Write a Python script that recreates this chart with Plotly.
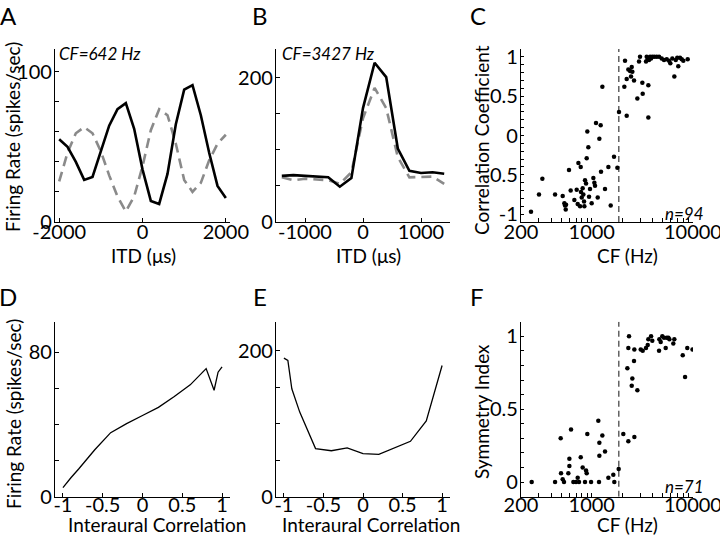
import plotly.graph_objects as go

# ---- data ----
# A: ITD curve, CF = 642 Hz
itd_a = [-2000, -1800, -1600, -1400, -1200, -1000, -800, -600, -400, -200, 0,
         200, 400, 600, 800, 1000, 1200, 1400, 1600, 1800, 2000]
rate_a = [55, 50, 40, 28, 30, 47, 64, 75, 79, 62, 35,
          14, 12, 32, 65, 88, 91, 71, 46, 24, 16]
rate_a_dash = [27, 46, 59, 63, 59, 47, 31, 17, 7, 17, 37,
               61, 75, 71, 52, 28, 20, 26, 41, 52, 58]

# B: ITD curve, CF = 3427 Hz
itd_b = [-1400, -1200, -1000, -800, -600, -400, -200, 0, 200, 400, 600, 800, 1000, 1200, 1400]
rate_b = [64, 65, 64, 63, 62, 49, 61, 158, 221, 201, 102, 71, 68, 69, 67]
rate_b_dash = [62, 58, 60, 59, 58, 53, 69, 144, 186, 158, 90, 62, 62, 63, 53]

# D/E: rate vs interaural correlation
corr = [-1, -0.95, -0.9, -0.8, -0.6, -0.4, -0.2, 0, 0.2, 0.4, 0.6, 0.8, 0.9, 0.95, 1]
rate_d = [5, 8, 10.5, 15.5, 26, 35.5, 40.5, 45, 49.5, 55.5, 62, 71, 59, 69, 72]
rate_e = [190, 187, 148, 116, 66, 63, 67, 59, 58, 67, 76, 104, 141, 160, 180]

# C: correlation coefficient vs CF
cf_c = [251, 301, 325, 434, 516, 536, 544, 553, 557, 596, 619, 673, 710, 738, 726,
        766, 778, 783, 796, 813, 826, 839, 845, 858, 878, 891, 904, 925, 940, 961,
        998, 1037, 1061, 1077, 1102, 1145, 1189, 1225, 1235, 1273, 1352, 1459, 1539,
        1660, 1791, 1858,
        2099, 2132, 2215, 2215, 2299, 2390, 2444, 2483, 2518, 2617, 2823, 2931, 2999,
        3162, 3187, 3491, 3624, 3624, 3573, 3681, 3767, 3855, 3966, 4150, 4384, 4624,
        4909, 5176, 5506, 5800, 5976, 6252, 6546, 6761, 6998, 7161, 7447, 7745, 8035,
        8872, 3436]
cc_c = [-0.97, -0.75, -0.55, -0.75, -0.77, -0.86, -0.89, -0.94, -0.88, -0.44, -0.70,
        -0.82, -0.69, -0.35, -0.87, -0.90, -0.40, -0.72, -0.79, -0.67, -0.75, -0.84,
        -0.90, -0.57, -0.61, -0.29, 0.05, -0.15, -0.78, -0.68, -0.86, -0.54, -0.60,
        -0.64, 0.16, -0.79, -0.04, 0.13, -0.46, 0.62, -0.68, -0.40, -0.89, -0.27,
        -0.41, 0.30,
        0.62, 0.95, 0.72, 0.25, 0.84, 0.82, 0.75, 0.87, 0.81, 0.70, 0.47, 0.94, 1.0,
        0.67, 0.53, 1.0, 0.64, 0.23, 0.97, 0.96, 1.0, 0.98, 1.0, 1.0, 1.0, 1.0,
        0.98, 0.96, 0.97, 0.95, 0.92, 0.98, 0.75, 0.96, 0.99, 0.88, 0.99, 0.97, 0.95,
        0.97, 0.94]

# F: symmetry index vs CF
cf_f = [255, 434, 493, 497, 516, 532, 587, 601, 601, 624, 658, 699, 726, 748, 778,
        813, 858, 878, 891, 904, 984, 1161, 1189, 1189, 1180, 1273, 1352, 1459, 1633,
        1671, 1845,
        2051, 2249, 2299, 2299, 2335, 2483, 2518, 2617, 2636, 2636, 2823, 3048, 3187,
        3436, 3573, 3624, 3855, 3966, 4624, 4656, 4801, 4981, 5176, 5378, 5506, 5715,
        5848, 6397, 6546, 7925, 8356, 8790, 9900]
si_f = [0, 0, 0.30, 0.06, 0.02, 0, 0.06, 0.11, 0.16, 0.36, 0, 0, 0.03, 0, 0.17,
        0.10, 0, 0.08, 0.06, 0.33, 0, 0.42, 0.27, 0.18, 0, 0.32, 0.21, 0.03, 0.05,
        0, 0.09,
        0.33, 0.78, 0.28, 0.92, 1.0, 0.66, 0.71, 0.83, 0.31, 0.91, 0.63, 0.91, 0.90,
        0.92, 0.94, 0.98, 1.0, 0.97, 0.90, 0.98, 0.96, 1.0, 0.99, 0.92, 0.99, 0.99,
        0.98, 0.95, 0.98, 0.87, 0.72, 0.92, 0.91]

cf_split = 1850
n_c = 94
n_f = 71

W, H = 720, 535
FONT = "Lato"


def px(x, y):
    return x / W, 1 - y / H


fig = go.Figure()

black = "#000000"
gray = "#8a8a8a"

# A
fig.add_trace(go.Scatter(x=itd_a, y=rate_a_dash, mode="lines", xaxis="x", yaxis="y",
                         line=dict(color=gray, width=2.6, dash="10px,6px")))
fig.add_trace(go.Scatter(x=itd_a, y=rate_a, mode="lines", xaxis="x", yaxis="y",
                         line=dict(color=black, width=2.6)))
# B
fig.add_trace(go.Scatter(x=itd_b, y=rate_b_dash, mode="lines", xaxis="x2", yaxis="y2",
                         line=dict(color=gray, width=2.6, dash="10px,6px")))
fig.add_trace(go.Scatter(x=itd_b, y=rate_b, mode="lines", xaxis="x2", yaxis="y2",
                         line=dict(color=black, width=2.6)))
# C
fig.add_trace(go.Scatter(x=[cf_split, cf_split], y=[-1.1, 1.1], mode="lines",
                         xaxis="x3", yaxis="y3",
                         line=dict(color="#555555", width=1.4, dash="6px,4px")))
fig.add_trace(go.Scatter(x=cf_c, y=cc_c, mode="markers", xaxis="x3", yaxis="y3",
                         marker=dict(color=black, size=4.5)))
# D
fig.add_trace(go.Scatter(x=corr, y=rate_d, mode="lines", xaxis="x4", yaxis="y4",
                         line=dict(color=black, width=1.3)))
# E
fig.add_trace(go.Scatter(x=corr, y=rate_e, mode="lines", xaxis="x5", yaxis="y5",
                         line=dict(color=black, width=1.3)))
# F
fig.add_trace(go.Scatter(x=[cf_split, cf_split], y=[-0.1, 1.1], mode="lines",
                         xaxis="x6", yaxis="y6",
                         line=dict(color="#555555", width=1.4, dash="6px,4px")))
fig.add_trace(go.Scatter(x=cf_f, y=si_f, mode="markers", xaxis="x6", yaxis="y6",
                         marker=dict(color=black, size=4.5)))

tickfont = dict(family=FONT, size=20, color=black)
axis_common = dict(showline=True, linecolor=black, linewidth=1.2, ticks="inside",
                   ticklen=4, tickcolor=black, tickwidth=1, showgrid=False,
                   zeroline=False, tickfont=tickfont, mirror=False, automargin=False,
                   ticklabeloverflow="allow")
xstand = dict(ticklabelstandoff=-8)
xstand_low = dict(ticklabelstandoff=-10)
ystand = dict(ticklabelstandoff=-2)

colx = [(55, 230), (276, 450), (521, 693)]
rowy = [(49, 222), (321.7, 496.7)]


def dom_x(i):
    a, b = colx[i]
    return [a / W, b / W]


def dom_y(j):
    a, b = rowy[j]
    return [1 - b / H, 1 - a / H]


def ticks(vals, labelled):
    return dict(tickmode="array", tickvals=vals,
                ticktext=[str(v) if v in labelled else "" for v in vals])


cf_ticks = [200, 300, 400, 500, 600, 700, 800, 900, 1000, 2000, 3000, 4000, 5000,
            6000, 7000, 8000, 9000, 10000]
c_yt = [round(-1 + 0.1 * k, 1) for k in range(21)]
f_yt = [round(0.1 * k, 1) for k in range(11)]

fig.update_layout(
    template="none",
    width=W, height=H, margin=dict(l=0, r=0, t=0, b=0, autoexpand=False),
    paper_bgcolor="white", plot_bgcolor="white", showlegend=False, hovermode=False,
    xaxis=dict(axis_common, **xstand, domain=dom_x(0), anchor="y", range=[-2100, 2100],
               **ticks([-2000, 0, 2000], [-2000, 0, 2000])),
    yaxis=dict(axis_common, **ystand, domain=dom_y(0), anchor="x", range=[0, 115],
               **ticks([0, 20, 40, 60, 80, 100], [0, 100])),
    xaxis2=dict(axis_common, **xstand, domain=dom_x(1), anchor="y2", range=[-1500, 1500],
                **ticks([-1000, 0, 1000], [-1000, 0, 1000])),
    yaxis2=dict(axis_common, **ystand, domain=dom_y(0), anchor="x2", range=[0, 240],
                **ticks([0, 50, 100, 150, 200], [0, 200])),
    xaxis3=dict(axis_common, **xstand, domain=dom_x(2), anchor="y3", type="log",
                range=[2.3008, 4.0005], **ticks(cf_ticks, [200, 1000, 10000])),
    yaxis3=dict(axis_common, **ystand, domain=dom_y(0), anchor="x3", range=[-1.1, 1.1],
                tickmode="array", tickvals=c_yt, ticklen=3,
                ticktext=[{-1.0: "-1", -0.5: "-0.5", 0.0: "0", 0.5: "0.5", 1.0: "1"}.get(v, "")
                          for v in c_yt]),
    xaxis4=dict(axis_common, **xstand_low, domain=dom_x(0), anchor="y4", range=[-1.1, 1.1],
                tickmode="array", tickvals=[-1, -0.5, 0, 0.5, 1],
                ticktext=["-1", "-0.5", "0", "0.5", "1"]),
    yaxis4=dict(axis_common, **ystand, domain=dom_y(1), anchor="x4", range=[0, 97],
                **ticks([0, 20, 40, 60, 80], [0, 80])),
    xaxis5=dict(axis_common, **xstand_low, domain=dom_x(1), anchor="y5", range=[-1.1, 1.1],
                tickmode="array", tickvals=[-1, -0.5, 0, 0.5, 1],
                ticktext=["-1", "-0.5", "0", "0.5", "1"]),
    yaxis5=dict(axis_common, **ystand, domain=dom_y(1), anchor="x5", range=[0, 240],
                **ticks([0, 50, 100, 150, 200], [0, 200])),
    xaxis6=dict(axis_common, **xstand_low, domain=dom_x(2), anchor="y6", type="log",
                range=[2.3008, 4.0005], **ticks(cf_ticks, [200, 1000, 10000])),
    yaxis6=dict(axis_common, **ystand, domain=dom_y(1), anchor="x6", range=[-0.1, 1.1],
                tickmode="array", tickvals=f_yt, ticklen=3,
                ticktext=[{0.0: "0", 0.5: "0.5", 1.0: "1"}.get(v, "") for v in f_yt]),
)


def note(text, x, y, size=19, angle=0, italic=False, xanchor="center"):
    fx, fy = px(x, y)
    if italic:
        text = "<i>" + text + "</i>"
    fig.add_annotation(text=text, x=fx, y=fy, xref="paper", yref="paper",
                       showarrow=False, textangle=angle, xanchor=xanchor,
                       yanchor="middle", borderpad=0,
                       font=dict(family=FONT, size=size, color=black))


# panel letters
for letter, x, y in [("A", 8, 15), ("B", 260, 15), ("C", 478, 15),
                     ("D", 8, 296), ("E", 260, 296), ("F", 477, 296)]:
    note(letter, x, y, size=24)

# axis titles
note("Firing Rate (spikes/sec)", 13, 137, angle=-90)
note("Firing Rate (spikes/sec)", 13, 414, angle=-90)
note("Correlation Coefficient", 481, 140, angle=-90)
note("Symmetry Index", 481, 411, angle=-90)
note("ITD (\u03bcs)", 143, 256)
note("ITD (\u03bcs)", 368, 256)
note("CF (Hz)", 627, 256)
note("Interaural Correlation", 157, 524)
note("Interaural Correlation", 371, 524)
note("CF (Hz)", 627, 524)

# in-panel labels
note("CF=642 Hz", 58, 54, size=17, italic=True, xanchor="left")
note("CF=3427 Hz", 281, 54, size=17, italic=True, xanchor="left")
note("n=%d" % n_c, 705, 213, size=17, italic=True, xanchor="right")
note("n=%d" % n_f, 705, 486, size=17, italic=True, xanchor="right")

fig.write_html("out.html", config={"displayModeBar": False},
               post_script="document.body.style.margin='0';")
